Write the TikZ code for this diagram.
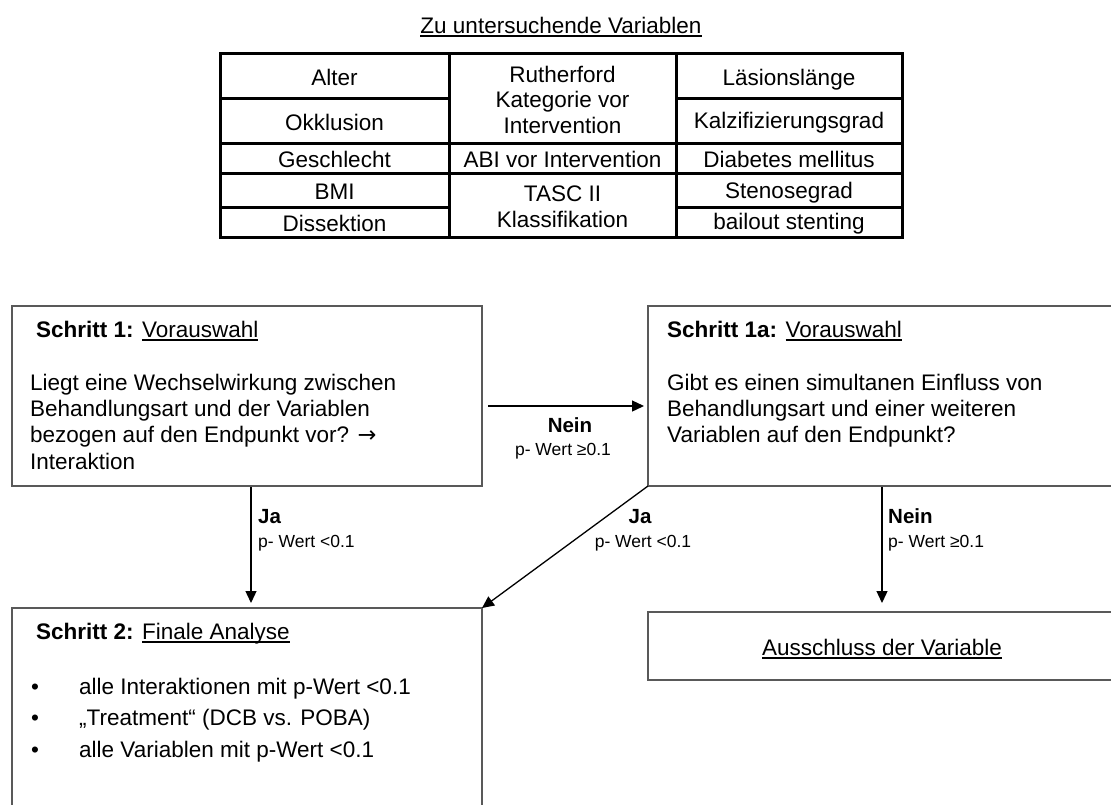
\documentclass[tikz,border=0pt]{standalone}
\usepackage{fontspec}
\setmainfont{Liberation Sans}
\newfontfamily\pfeilschrift{DejaVu Sans}
\usetikzlibrary{arrows.meta}
\newcommand{\unter}[1]{\setbox0\hbox{#1}\rlap{\rule[-3.6pt]{\wd0}{1.2pt}}\box0}
\newcommand{\punkt}{\makebox[48pt][l]{•}}
\tikzset{
  box/.style={draw=black!65, line width=1.4pt, rectangle, inner sep=0pt, outer sep=0pt, anchor=north west},
  tab/.style={line width=3pt, line cap=rect},
  zelle/.style={font=\fontsize{22.5}{25.5}\selectfont, inner sep=0pt, align=center},
  txt/.style={font=\fontsize{22.5}{26.3}\selectfont, inner sep=0pt, align=left},
  pfeil/.style={line width=1.3pt, -{Triangle[length=12pt,width=11pt]}},
  entscheid/.style={font=\fontsize{20.5}{24}\selectfont\bfseries, inner sep=0pt},
  pwert/.style={font=\fontsize{17.5}{21}\selectfont, inner sep=0pt},
}

\begin{document}
\begin{tikzpicture}[x=1pt,y=-1pt]
    \useasboundingbox[fill=white] (0,0) rectangle (1111,804);

    % Tabelle der Variablen
    \node[zelle, anchor=base] (titel) at (561,33) {\unter{Zu untersuchende Variablen}};
    \draw[tab] (220,53) rectangle (902,237);
    \draw[tab] (449,53) -- (449,237);
    \draw[tab] (676,53) -- (676,237);
    \draw[tab] (220,143) -- (902,143);
    \draw[tab] (220,173) -- (902,173);
    \draw[tab] (220,98) -- (449,98);
    \draw[tab] (676,98) -- (902,98);
    \draw[tab] (220,207) -- (449,207);
    \draw[tab] (676,207) -- (902,207);

    \node[zelle, anchor=base] (alter) at (334.5,85) {Alter};
    \node[zelle, anchor=base] (okkl) at (334.5,130) {Okklusion};
    \node[zelle, anchor=base] (geschl) at (334.5,167) {Geschlecht};
    \node[zelle, anchor=base] (bmi) at (334.5,199) {BMI};
    \node[zelle, anchor=base] (dissekt) at (334.5,231) {Dissektion};

    \node[zelle, anchor=north] (ruth) at (562.5,65.9) {Rutherford\\Kategorie vor\\Intervention};
    \node[zelle, anchor=base] (abi) at (562.5,167) {ABI vor Intervention};
    \node[zelle, anchor=north] (tasc) at (562.5,185.9) {TASC II\\Klassifikation};

    \node[zelle, anchor=base] (laesion) at (789,85) {Läsionslänge};
    \node[zelle, anchor=base] (kalz) at (789,128) {Kalzifizierungsgrad};
    \node[zelle, anchor=base] (diab) at (789,167) {Diabetes mellitus};
    \node[zelle, anchor=base] (steno) at (789,198) {Stenosegrad};
    \node[zelle, anchor=base] (bailout) at (789,229) {bailout stenting};

    % Schritt 1
    \node[box, minimum width=470pt, minimum height=180pt] (s1) at (12,306) {};
    \node[txt, anchor=base west] (s1kopf) at (36,337) {\textbf{Schritt 1:} \unter{Vorauswahl}};
    \node[txt, anchor=north west] (s1frage) at (30,373.6) {Liegt eine Wechselwirkung zwischen\\Behandlungsart und der Variablen\\bezogen auf den Endpunkt vor? {\pfeilschrift →}\\Interaktion};

    % Schritt 1a
    \node[box, minimum width=468pt, minimum height=180pt] (s1a) at (648,306) {};
    \node[txt, anchor=base west] (s1akopf) at (667,337) {\textbf{Schritt 1a:} \unter{Vorauswahl}};
    \node[txt, anchor=north west] (s1afrage) at (667,373.6) {Gibt es einen simultanen Einfluss von\\Behandlungsart und einer weiteren\\Variablen auf den Endpunkt?};

    % Schritt 2
    \node[box, minimum width=470pt, minimum height=200pt] (s2) at (12,608) {};
    \node[txt, anchor=base west] (s2kopf) at (36,639) {\textbf{Schritt 2:} \unter{Finale Analyse}};
    \node[txt, anchor=north west, font=\fontsize{22.5}{31.5}\selectfont] (s2liste) at (31,677.6) {\punkt alle Interaktionen mit p-Wert <0.1\\\punkt „Treatment“ (DCB vs. POBA)\\\punkt alle Variablen mit p-Wert <0.1};

    % Ausschluss
    \node[box, minimum width=468pt, minimum height=68pt] (aus) at (648,612) {};
    \node[txt, anchor=base] (austext) at (882,655) {\unter{Ausschluss der Variable}};

    % Pfeile
    \draw[pfeil, shorten <=6pt, shorten >=4pt] ([yshift=-10pt]s1.east) -- ([yshift=-10pt]s1a.west);
    \draw[pfeil, shorten <=1pt, shorten >=5pt] ([xshift=4pt]s1.south) -- ([xshift=4pt]s2.north);
    \draw[pfeil] (s1a.south west) -- (s2.north east);
    \draw[pfeil, shorten <=1pt, shorten >=9pt] (s1a.south) -- (aus.north);

    \node[entscheid, anchor=base] (nein1) at (570,432) {Nein};
    \node[pwert, anchor=base] (nein1p) at (563,455) {p- Wert ≥0.1};
    \node[entscheid, anchor=base west] (ja1) at (258,523) {Ja};
    \node[pwert, anchor=base west] (ja1p) at (258,547) {p- Wert <0.1};
    \node[entscheid, anchor=base] (ja2) at (640,523) {Ja};
    \node[pwert, anchor=base] (ja2p) at (643,547) {p- Wert <0.1};
    \node[entscheid, anchor=base west] (nein2) at (888,523) {Nein};
    \node[pwert, anchor=base west] (nein2p) at (888,547) {p- Wert ≥0.1};
\end{tikzpicture}
\end{document}
